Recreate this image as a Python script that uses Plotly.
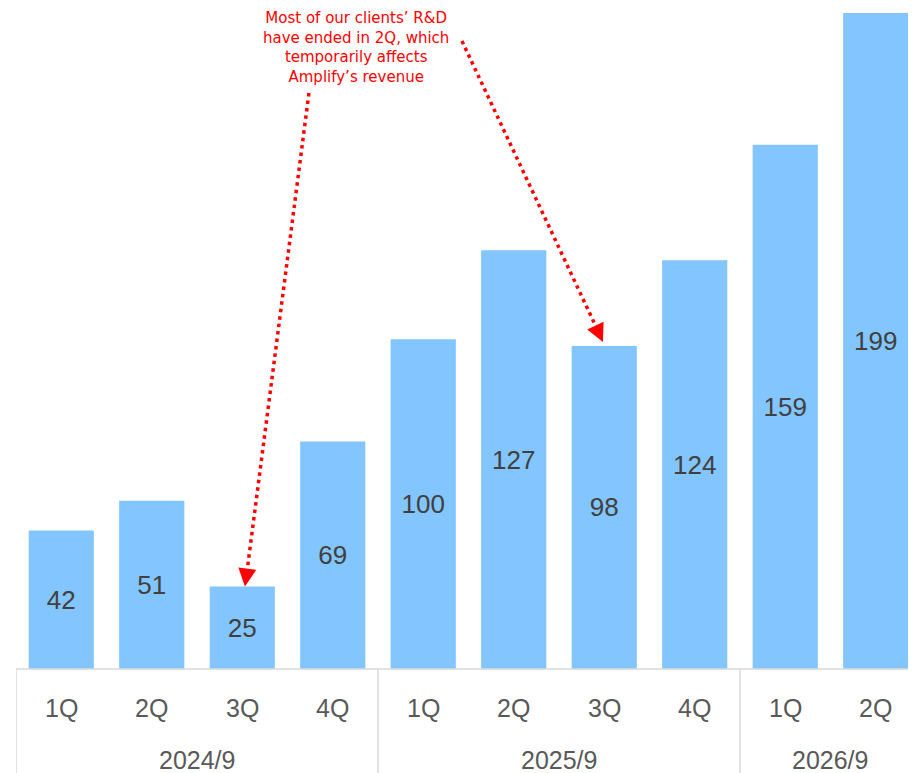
import plotly.graph_objects as go

# ---- data ----
quarters = ["1Q", "2Q", "3Q", "4Q", "1Q", "2Q", "3Q", "4Q", "1Q", "2Q"]
years = ["2024/9", "2025/9", "2026/9"]
year_counts = [4, 4, 2]
values = [42, 51, 25, 69, 100, 127, 98, 124, 159, 199]

note_text = ("Most of our clients\u2019 R&D<br>have ended in 2Q, which<br>"
             "temporarily affects<br>Amplify\u2019s revenue")

BAR_COLOR = "#83C5FE"
AXIS_TEXT = "#595959"
FRAME = "#D9D9D9"
RED = "#FF0000"

x_idx = list(range(len(values)))

fig = go.Figure()
fig.add_trace(go.Bar(
    x=x_idx, y=values,
    marker=dict(color=BAR_COLOR, line=dict(width=0)),
    text=[str(v) for v in values],
    textposition="inside",
    insidetextanchor="middle",
    textangle=0,
    constraintext="none",
    textfont=dict(family="Liberation Sans, Arial", size=26, color="#404040"),
    hoverinfo="skip",
))

shapes = []
annotations = []

# frame of the category axis
shapes.append(dict(type="line", xref="x", yref="paper", x0=-0.5, x1=9.5, y0=0, y1=0,
                   line=dict(color=FRAME, width=1.5)))
start = 0
bounds = [-0.5]
for c in year_counts:
    start += c
    bounds.append(start - 0.5)
for b in bounds[:-1]:
    shapes.append(dict(type="line", xref="x", yref="paper", x0=b, x1=b, y0=0, y1=-0.25,
                       line=dict(color=FRAME, width=1.5)))

# quarter labels
for i, q in enumerate(quarters):
    annotations.append(dict(x=i, y=-0.059, xref="x", yref="paper", text=q, showarrow=False,
                            xanchor="center", yanchor="middle",
                            font=dict(family="Liberation Sans, Arial", size=25, color=AXIS_TEXT)))
# year labels
s = 0
for yr, c in zip(years, year_counts):
    center = s + (c - 1) / 2
    s += c
    annotations.append(dict(x=center, y=-0.137, xref="x", yref="paper", text=yr, showarrow=False,
                            xanchor="center", yanchor="middle",
                            font=dict(family="Liberation Sans, Arial", size=25, color=AXIS_TEXT)))

# note text
annotations.append(dict(x=3.257, y=188.6, xref="x", yref="y", text=note_text, showarrow=False,
                        xanchor="center", yanchor="middle", align="center",
                        font=dict(family="DejaVu Sans, Verdana", size=15, color=RED)))

# dotted arrows: (tail x, tail y, line end x, line end y, tip x, tip y, ax px, ay px)
arrows = [
    (2.737, 174.7, 2.045, 28.0, 2.03, 25.0, 1.8, -13.9),
    (4.428, 190.5, 5.940, 102.0, 5.986, 99.2, -5.9, -12.7),
]
for tx, ty, ex, ey, px, py, ax, ay in arrows:
    shapes.append(dict(type="line", xref="x", yref="y", x0=tx, y0=ty, x1=ex, y1=ey,
                       line=dict(color=RED, width=3.5, dash="3.5px,4px")))
    annotations.append(dict(x=px, y=py, xref="x", yref="y", ax=ax, ay=ay, text="",
                            showarrow=True, arrowhead=2, arrowsize=1.8, arrowwidth=2,
                            arrowcolor=RED))

fig.update_layout(
    width=916, height=773,
    margin=dict(l=8, r=8, t=0, b=112),
    paper_bgcolor="white", plot_bgcolor="white",
    showlegend=False,
    bargap=0.28,
    xaxis=dict(range=[-0.5, 9.445], showticklabels=False, showgrid=False, zeroline=False,
               showline=False, ticks="", fixedrange=True),
    yaxis=dict(range=[0, 200.5], visible=False, showgrid=False, zeroline=False, fixedrange=True),
    shapes=shapes,
    annotations=annotations,
)

fig.write_html("out.html", config={"displayModeBar": False})
